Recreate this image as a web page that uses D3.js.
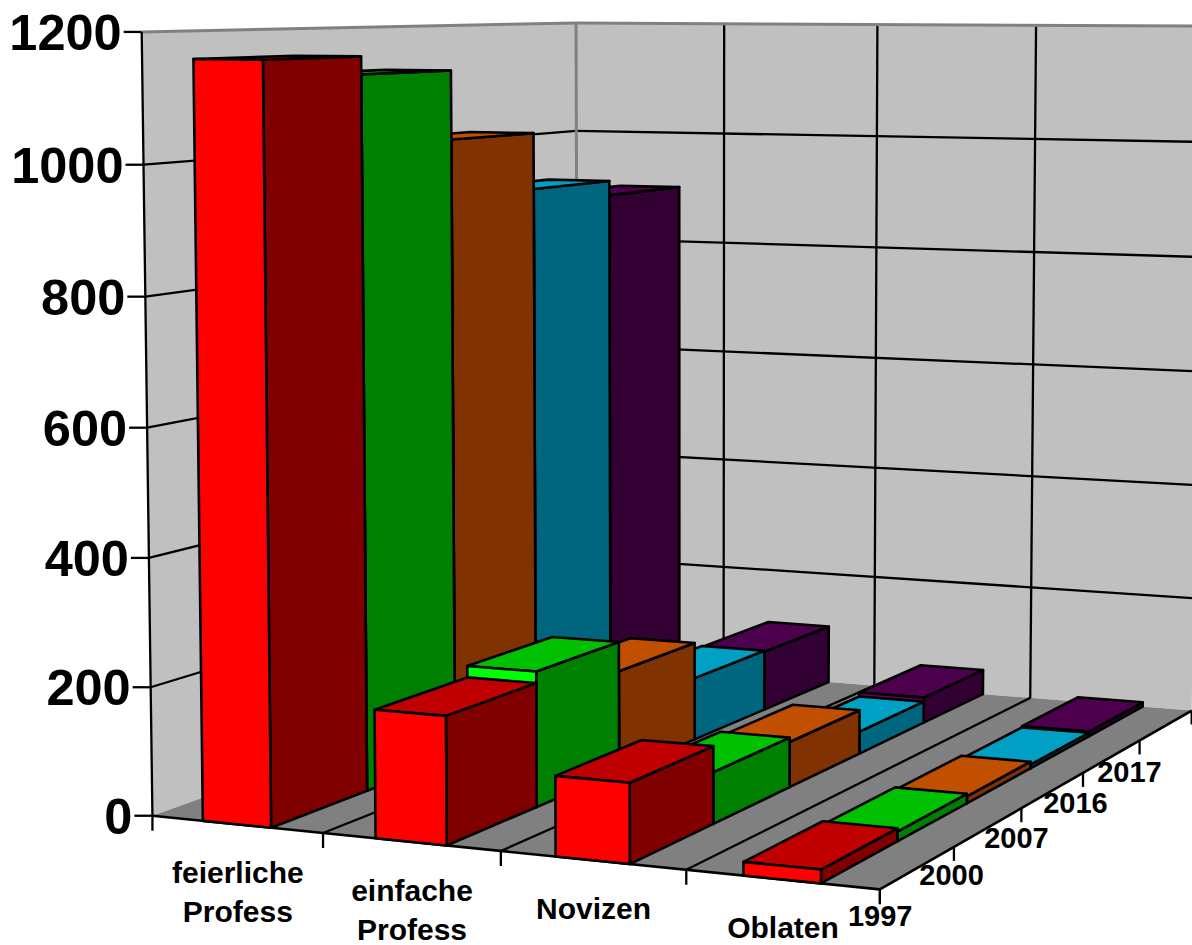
<!DOCTYPE html>
<html>
<head>
<meta charset="utf-8">
<style>
  html, body { margin: 0; padding: 0; background: #fff; }
  svg { display: block; }
  text { font-family: "Liberation Sans", Arial, sans-serif; font-weight: bold; fill: #000; }
</style>
</head>
<body>
<div id="chart"></div>
<script src="https://cdn.jsdelivr.net/npm/d3@7"></script>
<script>
const categories = [["feierliche", "Profess"], ["einfache", "Profess"], ["Novizen"], ["Oblaten"]];
const years = ["1997", "2000", "2007", "2016", "2017"];
const yTicks = [0, 200, 400, 600, 800, 1000, 1200];

// one list per year, same order as categories
const values1997 = [1160, 195, 120, 20];
const values2000 = [1132, 213, 80, 15];
const values2007 = [1020, 165, 73, 11];
const values2016 = [925, 105, 37, 6];
const values2017 = [900, 103, 44, 8];
const seriesValues = [values1997, values2000, values2007, values2016, values2017];

// front, top, side
const seriesColors = [
    ["#ff0000", "#c00000", "#800000"],
    ["#00ff00", "#00c000", "#008000"],
    ["#ff6600", "#c05000", "#803300"],
    ["#00ccff", "#009fc4", "#006680"],
    ["#660066", "#4d004d", "#330033"]
];

const width = 1192;
const height = 945;

const svg = d3.select("#chart").append("svg")
    .attr("width", width)
    .attr("height", height);

// Unit box corners -> where they sit in the picture, used to fit the camera
const calibration = [
    [0, 0, 0, 153, 816],
    [1, 0, 0, 880, 889],
    [0, 0, 1, 577, 662],
    [1, 0, 1, 1192, 711],
    [0, 1, 0, 141, 32],
    [0, 1, 1, 577, 23],
    [1, 1, 1, 1200, 26]
];

function solve(A, b) {
    const n = b.length;
    const M = A.map((row, i) => [...row, b[i]]);
    for (let c = 0; c < n; c++) {
        let best = c;
        for (let r = c + 1; r < n; r++) {
            if (Math.abs(M[r][c]) > Math.abs(M[best][c])) best = r;
        }
        [M[c], M[best]] = [M[best], M[c]];
        for (let r = 0; r < n; r++) {
            if (r === c) continue;
            const f = M[r][c] / M[c][c];
            for (let k = c; k <= n; k++) M[r][k] -= f * M[c][k];
        }
    }
    return M.map((row, i) => row[n] / row[i]);
}

function fitCamera(points) {
    const rows = [];
    const rhs = [];
    points.forEach(([X, Y, Z, u, v]) => {
        rows.push([X, Y, Z, 1, 0, 0, 0, 0, -u * X, -u * Y, -u * Z]);
        rhs.push(u);
        rows.push([0, 0, 0, 0, X, Y, Z, 1, -v * X, -v * Y, -v * Z]);
        rhs.push(v);
    });
    const AtA = d3.range(11).map(i => d3.range(11).map(j => d3.sum(rows, r => r[i] * r[j])));
    const Atb = d3.range(11).map(i => d3.sum(rows, (r, k) => r[i] * rhs[k]));
    return solve(AtA, Atb);
}

const cam = fitCamera(calibration);

function project(x, y, z) {
    const w = cam[8] * x + cam[9] * y + cam[10] * z + 1;
    return [
        (cam[0] * x + cam[1] * y + cam[2] * z + cam[3]) / w,
        (cam[4] * x + cam[5] * y + cam[6] * z + cam[7]) / w
    ];
}

// Scales go to the unit box, project() takes it from there
const xScale = d3.scaleBand().domain(d3.range(categories.length)).range([0, 1])
    .paddingInner(0.6).paddingOuter(0.3);
const xStep = d3.scaleLinear().domain([0, categories.length]).range([0, 1]);
const zScale = d3.scaleBand().domain(d3.range(years.length)).range([0, 1]);
const yScale = d3.scaleLinear().domain([0, 1200]).range([0, 1]);

const line = d3.line();

function poly(g, points, fill) {
    return g.append("path")
        .attr("d", line(points) + "Z")
        .attr("fill", fill)
        .attr("stroke", "none");
}

function seg(g, a, b, color, w) {
    g.append("line")
        .attr("x1", a[0]).attr("y1", a[1])
        .attr("x2", b[0]).attr("y2", b[1])
        .attr("stroke", color)
        .attr("stroke-width", w);
}

// Walls and floor
const walls = svg.append("g");
poly(walls, [project(0, 0, 0), project(0, 1, 0), project(0, 1, 1), project(0, 0, 1)], "#c0c0c0");
poly(walls, [project(0, 0, 1), project(0, 1, 1), project(1, 1, 1), project(1, 0, 1)], "#c0c0c0");
poly(walls, [project(0, 0, 0), project(1, 0, 0), project(1, 0, 1), project(0, 0, 1)], "#808080");

// Gridlines
const grid = svg.append("g");
yTicks.slice(1, -1).forEach(v => {
    const y = yScale(v);
    seg(grid, project(0, y, 0), project(0, y, 1), "#000", 2.3);
    seg(grid, project(0, y, 1), project(1, y, 1), "#000", 2.3);
});
d3.range(1, categories.length).forEach(i => {
    const x = xStep(i);
    seg(grid, project(x, 0, 0), project(x, 0, 1), "#000", 2.3);
    seg(grid, project(x, 0, 1), project(x, 1, 1), "#000", 2.3);
});
seg(grid, project(0, 1, 0), project(0, 1, 1), "#808080", 3);
seg(grid, project(0, 1, 1), project(1, 1, 1), "#808080", 3);
seg(grid, project(0, 0, 1), project(0, 1, 1), "#808080", 3);

// Axis lines and ticks
const axes = svg.append("g");
seg(axes, project(0, 0, 0), project(0, 1, 0), "#000", 2.3);
seg(axes, project(0, 0, 0), project(1, 0, 0), "#000", 2.6);
seg(axes, project(1, 0, 0), project(1, 0, 1), "#000", 2.6);

yTicks.forEach(v => {
    const p = project(0, yScale(v), 0);
    seg(axes, p, [p[0] - 18, p[1]], "#000", 2.3);
});
d3.range(categories.length + 1).forEach(i => {
    const p = project(xStep(i), 0, 0);
    seg(axes, p, [p[0], p[1] + 15], "#000", 2.3);
});
d3.range(years.length + 1).forEach(i => {
    const p = project(1, 0, i / years.length);
    seg(axes, p, [p[0], p[1] + 14], "#000", 2.3);
});

// Bars, back row first and left to right so nearer ones paint over
const bars = [];
d3.range(years.length - 1, -1, -1).forEach(s => {
    categories.forEach((c, i) => {
        bars.push({ s, i, value: seriesValues[s][i] });
    });
});

function barFaces(d) {
    const x0 = xScale(d.i);
    const x1 = x0 + xScale.bandwidth();
    const z0 = zScale(d.s);
    const z1 = z0 + zScale.bandwidth();
    const y = yScale(d.value);
    return [
        { fill: seriesColors[d.s][2], pts: [project(x1, 0, z0), project(x1, y, z0), project(x1, y, z1), project(x1, 0, z1)] },
        { fill: seriesColors[d.s][1], pts: [project(x0, y, z0), project(x1, y, z0), project(x1, y, z1), project(x0, y, z1)] },
        { fill: seriesColors[d.s][0], pts: [project(x0, 0, z0), project(x1, 0, z0), project(x1, y, z0), project(x0, y, z0)] }
    ];
}

svg.append("g").selectAll("g")
    .data(bars)
    .enter()
    .append("g")
    .selectAll("path")
    .data(barFaces)
    .enter()
    .append("path")
    .attr("d", d => line(d.pts) + "Z")
    .attr("fill", d => d.fill)
    .attr("stroke", "#000")
    .attr("stroke-width", 2.6)
    .attr("stroke-linejoin", "round");

// Labels
const labels = svg.append("g");
labels.selectAll(".y-label")
    .data(yTicks)
    .enter()
    .append("text")
    .attr("class", "y-label")
    .attr("x", d => project(0, yScale(d), 0)[0] - 20)
    .attr("y", d => project(0, yScale(d), 0)[1] + 18)
    .attr("text-anchor", "end")
    .attr("font-size", 50.5)
    .text(d => d);

categories.forEach((words, i) => {
    const p = project(xScale(i) + xScale.bandwidth() / 2, 0, 0);
    words.forEach((word, k) => {
        labels.append("text")
            .attr("x", p[0] + 1)
            .attr("y", p[1] + 59 + k * 39)
            .attr("text-anchor", "middle")
            .attr("font-size", 30)
            .text(word);
    });
});

labels.selectAll(".z-label")
    .data(years)
    .enter()
    .append("text")
    .attr("class", "z-label")
    .attr("x", (d, i) => project(1, 0, zScale(i))[0] - 32 - i * 2.6)
    .attr("y", (d, i) => project(1, 0, zScale(i))[1] + 37 + i * 1.2)
    .attr("font-size", 29)
    .text(d => d);
</script>
</body>
</html>
